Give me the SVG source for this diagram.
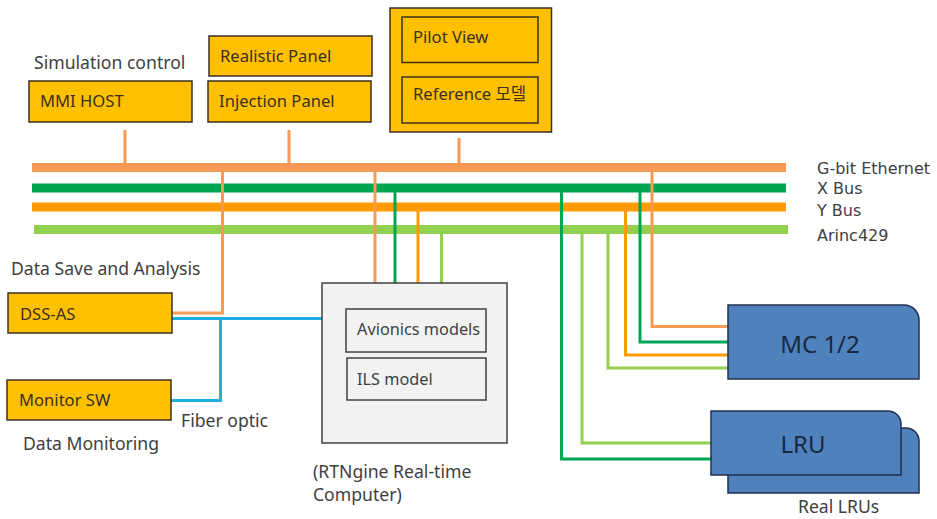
<svg xmlns="http://www.w3.org/2000/svg" width="937" height="519" viewBox="0 0 937 519">
  <style>
    text { font-family: "Noto Sans", "Noto Sans CJK KR", sans-serif; }
    .lbl { font-size: 17.6px; fill: #404040; }
    .buslbl { font-family: "DejaVu Sans", sans-serif; font-size: 16px; fill: #404040; }
    .box { fill: #FFC000; stroke: #3B3020; stroke-width: 1.5; }
    .boxtxt { font-size: 16.6px; fill: #3B3020; }
    .gray { fill: #F2F2F2; stroke: #404040; stroke-width: 1.5; }
    .graytxt { font-size: 16.3px; fill: #404040; }
    .blue { fill: #4F81BD; stroke: #1F3050; stroke-width: 1.5; }
    .bluetxt { font-size: 24px; fill: #1A2840; text-anchor: middle; }
    .bus { fill: none; stroke-width: 9; }
    .w { fill: none; stroke-width: 3; }
    .eth { stroke: #F79A57; }
    .xb { stroke: #00A651; }
    .yb { stroke: #FF9A00; }
    .ar { stroke: #92D050; }
    .fo { stroke: #1CAEE4; }
  </style>

  <!-- bus legend, one line per bus -->
  <g id="bus-labels">
    <text class="buslbl" x="817" y="174">G-bit Ethernet</text>
    <text class="buslbl" x="817" y="194">X Bus</text>
    <text class="buslbl" x="817" y="216">Y Bus</text>
    <text class="buslbl" x="817" y="241">Arinc429</text>
  </g>

  <!-- connectors and buses -->
  <g id="connectors">
    <!-- drops from top stations to Ethernet -->
    <path class="w eth" d="M125 130V167 M289 130V167 M459 138V167"/>

    <!-- main buses -->
    <path class="bus eth" d="M32 167.5H786"/>
    <path class="bus xb" d="M32 188H786"/>
    <path class="bus yb" d="M32 207H786"/>
    <path class="bus ar" d="M34 229.5H788"/>

    <!-- RTNgine computer taps -->
    <path class="w xb" d="M395 192V283"/>
    <path class="w yb" d="M418 211V283"/>
    <path class="w ar" d="M441.5 233V283"/>
    <path class="w eth" d="M375 171V283"/>

    <!-- LRU taps -->
    <path class="w xb" d="M561.5 192V459H711"/>
    <path class="w ar" d="M582 233V443H711"/>

    <!-- MC 1/2 taps -->
    <path class="w ar" d="M608 233V368H728"/>
    <path class="w yb" d="M625.5 211V355H728"/>
    <path class="w xb" d="M640 192V342H728"/>
    <path class="w eth" d="M652 171V326.5H728"/>

    <!-- DSS-AS to Ethernet -->
    <path class="w eth" d="M172 313H222.5V171"/>

    <!-- fiber optic -->
    <path class="w fo" d="M172 318.5H322 M220.5 318.5V400.5H171"/>
  </g>

  <!-- top stations -->
  <g id="sim-control">
    <text class="lbl" x="34" y="69">Simulation control</text>
  </g>
  <g id="mmi-host">
    <rect class="box" x="29" y="81" width="163" height="41"/>
    <text class="boxtxt" x="40" y="107">MMI HOST</text>
  </g>
  <g id="realistic-panel">
    <rect class="box" x="209" y="36" width="163" height="40"/>
    <text class="boxtxt" x="220" y="62">Realistic Panel</text>
  </g>
  <g id="injection-panel">
    <rect class="box" x="208" y="81" width="163" height="41"/>
    <text class="boxtxt" x="219" y="107">Injection Panel</text>
  </g>
  <g id="pilot-station">
    <rect class="box" x="390" y="8" width="161.5" height="124"/>
    <g id="pilot-view">
      <rect class="box" x="402" y="17" width="136" height="45.5"/>
      <text class="boxtxt" x="413" y="43">Pilot View</text>
    </g>
    <g id="reference-model">
      <rect class="box" x="402" y="77" width="136" height="46"/>
      <text class="boxtxt" x="413" y="100">Reference 모델</text>
    </g>
  </g>

  <!-- data save / monitoring -->
  <g id="dss-as">
    <text class="lbl" x="11" y="275">Data Save and Analysis</text>
    <rect class="box" x="8" y="293" width="164" height="40"/>
    <text class="boxtxt" x="20" y="320">DSS-AS</text>
  </g>
  <g id="monitor-sw">
    <rect class="box" x="7" y="380" width="164" height="40"/>
    <text class="boxtxt" x="19" y="406">Monitor SW</text>
    <text class="lbl" x="23" y="450">Data Monitoring</text>
  </g>
  <g id="fiber-label">
    <text class="lbl" x="181" y="427">Fiber optic</text>
  </g>

  <!-- real-time computer -->
  <g id="rtngine">
    <rect class="gray" x="322" y="283" width="185" height="160"/>
    <g id="avionics-models">
      <rect class="gray" x="346" y="309" width="140" height="43"/>
      <text class="graytxt" x="357" y="335">Avionics models</text>
    </g>
    <g id="ils-model">
      <rect class="gray" x="347" y="358" width="139" height="42"/>
      <text class="graytxt" x="357" y="385">ILS model</text>
    </g>
    <text class="lbl" x="313" y="478">(RTNgine Real-time</text>
    <text class="lbl" x="313" y="501">Computer)</text>
  </g>

  <!-- mission computer -->
  <g id="mc">
    <path class="blue" d="M728 305H904A15 15 0 0 1 919 320V379H728Z"/>
    <text class="bluetxt" x="820" y="353">MC 1/2</text>
  </g>

  <!-- line replaceable units -->
  <g id="lru">
    <path class="blue" d="M728 428H906A13 13 0 0 1 919 441V493H728Z"/>
    <path class="blue" d="M711 411H888A13 13 0 0 1 901 424V475H711Z"/>
    <text class="bluetxt" x="803" y="453">LRU</text>
    <text class="lbl" x="798" y="513">Real LRUs</text>
  </g>
</svg>
